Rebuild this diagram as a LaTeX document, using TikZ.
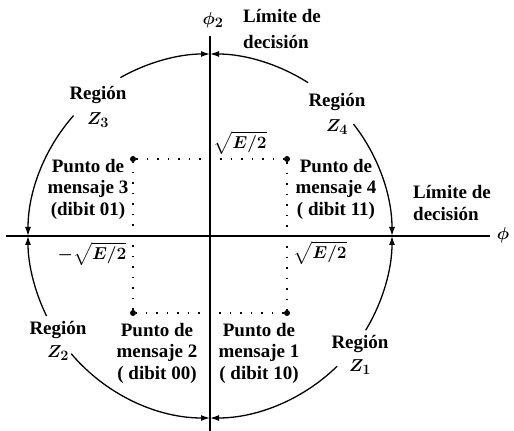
\documentclass[tikz,border=0pt]{standalone}
\usepackage{amsmath,amssymb}
\usepackage{fontspec}
\setmainfont{Liberation Serif}
\usetikzlibrary{arrows.meta}
\begin{document}
\begin{tikzpicture}[x=1pt,y=1pt,
    lbl/.style={font=\fontsize{19}{21.5}\selectfont\bfseries\boldmath, align=center, inner sep=0pt},
    regarc/.style={line width=1.3pt, -{Latex[length=9pt,width=6pt]}},
    axisline/.style={line width=1.3pt},
    sqline/.style={line width=1.3pt, dash pattern=on 1.5pt off 9pt},
    msgdot/.style={circle, fill=black, inner sep=0pt, minimum size=6pt}]
    \def\r{182}
    \useasboundingbox (0,0) rectangle (514,431);
    \coordinate (O) at (210,195);
    % axis
    \coordinate (xl) at (6,195);
    \coordinate (xr) at (490,195);
    \coordinate (yt) at (210,395);
    \coordinate (yb) at (210,0);
    \draw[axisline] (xl) -- (xr);
    \draw[axisline] (yb) -- (yt);
    \node[lbl] (phi) at (503,196) {$\phi$};
    \node[lbl] (phi2) at (213,411) {$\phi_2$};
    % decision boundaries
    \node[lbl, align=left] (limt) at (282,402) {Límite de\\[5pt]decisión};
    \node[lbl, align=left] (limr) at (452,228) {Límite de\\decisión};
    % crossings on the circle
    \path (O) ++(0:\r) coordinate (cr);
    \path (O) ++(90:\r) coordinate (ct);
    \path (O) ++(180:\r) coordinate (cl);
    \path (O) ++(270:\r) coordinate (cb);
    % arc ends near the region labels
    \path (O) ++(119.5:\r) coordinate (s3a);
    \path (O) ++(138.6:\r) coordinate (s3b);
    \path (O) ++(57.4:\r) coordinate (s4a);
    \path (O) ++(38:\r) coordinate (s4b);
    \path (O) ++(-31.2:\r) coordinate (s1a);
    \path (O) ++(-45.7:\r) coordinate (s1b);
    \path (O) ++(206.1:\r) coordinate (s2a);
    \path (O) ++(220.3:\r) coordinate (s2b);
    % regions
    \draw[regarc] (s3a) arc[start angle=119.5, end angle=90, radius=\r];
    \draw[regarc] (s3b) arc[start angle=138.6, end angle=180, radius=\r];
    \draw[regarc] (s4a) arc[start angle=57.4, end angle=90, radius=\r];
    \draw[regarc] (s4b) arc[start angle=38, end angle=0, radius=\r];
    \draw[regarc] (s1a) arc[start angle=-31.2, end angle=0, radius=\r];
    \draw[regarc] (s1b) arc[start angle=-45.7, end angle=-90, radius=\r];
    \draw[regarc] (s2a) arc[start angle=206.1, end angle=180, radius=\r];
    \draw[regarc] (s2b) arc[start angle=220.3, end angle=270, radius=\r];
    \node[lbl] (z3) at (98,324) {Región\\[4pt]$Z_3$};
    \node[lbl] (z4) at (337,317) {Región\\[4pt]$Z_4$};
    \node[lbl] (z2) at (58,90) {Región\\[1pt]$Z_2$};
    \node[lbl] (z1) at (360,76) {Región\\[2pt]$Z_1$};
    % message points
    \node[msgdot] (m3) at (133,272) {};
    \node[msgdot] (m4) at (287,272) {};
    \node[msgdot] (m1) at (287,118) {};
    \node[msgdot] (m2) at (133,118) {};
    \draw[sqline] (m3) -- (m4) -- (m1) -- (m2) -- (m3);
    \node[lbl] (p3) at (88,242) {Punto de\\mensaje 3\\(dibit 01)};
    \node[lbl] (p4) at (336,242) {Punto de\\mensaje 4\\( dibit 11)};
    \node[lbl] (p2) at (157,78) {Punto de\\mensaje 2\\( dibit 00)};
    \node[lbl] (p1) at (259,78) {Punto de\\mensaje 1\\( dibit 10)};
    % coordinates of the points
    \node[lbl] (et) at (240,288) {$\sqrt{E/2}$};
    \node[lbl] (er) at (320,178) {$\sqrt{E/2}$};
    \node[lbl] (el) at (92,177) {$-\sqrt{E/2}$};
\end{tikzpicture}
\end{document}
